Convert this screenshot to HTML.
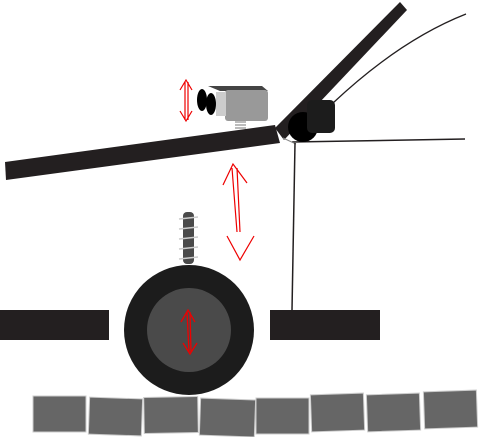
<!DOCTYPE html>
<html><head><meta charset="utf-8"><style>
html,body{margin:0;padding:0;background:#fff;width:479px;height:437px;overflow:hidden}
svg{display:block}
</style></head><body>
<svg width="479" height="437" viewBox="0 0 479 437">
  <g fill="#666" stroke="#ccc" stroke-width="1">
    <rect x="33" y="396" width="53" height="36"/>
    <rect x="89" y="398" width="53" height="37" transform="rotate(2 115 416)"/>
    <rect x="144" y="397" width="54" height="36" transform="rotate(-1 171 415)"/>
    <rect x="200" y="399" width="55" height="37" transform="rotate(2 227 417)"/>
    <rect x="256" y="398" width="53" height="36"/>
    <rect x="311" y="394" width="53" height="37" transform="rotate(-2 337 412)"/>
    <rect x="367" y="394" width="53" height="37" transform="rotate(-2 393 412)"/>
    <rect x="424" y="391" width="53" height="37" transform="rotate(-2 450 409)"/>
  </g>
  <rect x="0" y="310" width="109" height="30" fill="#231f20"/>
  <rect x="270" y="310" width="110" height="30" fill="#231f20"/>
  <g>
    <rect x="183" y="212" width="11" height="52" rx="4" fill="#4a4a4a"/>
    <g stroke="#ccc" stroke-width="1.5">
      <line x1="179" y1="219" x2="198" y2="217"/>
      <line x1="179" y1="229" x2="198" y2="227"/>
      <line x1="179" y1="239" x2="198" y2="237"/>
      <line x1="179" y1="249" x2="198" y2="247"/>
      <line x1="179" y1="259" x2="198" y2="257"/>
    </g>
  </g>
  <circle cx="189" cy="330" r="65" fill="#1c1c1c"/>
  <circle cx="189" cy="330" r="42" fill="#4a4a4a"/>
  <g stroke="#e00" stroke-width="1.3" fill="none">
    <line x1="187" y1="312" x2="189" y2="352"/><line x1="190" y1="312" x2="191" y2="352"/>
    <polyline points="181,322 188,310 195,322"/><polyline points="183,343 190,354 197,343"/>
  </g>
  <polygon points="5,162 275,125 280,143 6,180" fill="#231f20"/>
  <polygon points="275,128 400,2 407,10 284,140" fill="#231f20"/>
  <path d="M333,103 Q400,40 466,14" stroke="#231f20" stroke-width="1.3" fill="none"/>
  <line x1="292" y1="142" x2="465" y2="139" stroke="#231f20" stroke-width="1.5"/>
  <line x1="283" y1="138" x2="296" y2="144" stroke="#888" stroke-width="1"/>
  <line x1="295" y1="143" x2="292" y2="310" stroke="#231f20" stroke-width="1.5"/>
  <circle cx="303" cy="127" r="15" fill="#000"/>
  <rect x="307" y="100" width="28" height="33" rx="5" fill="#1c1c1c"/>
  <g>
    <polygon points="208,86 262,86 268,91 220,91" fill="#444"/>
    <rect x="225" y="90" width="43" height="31" rx="3" fill="#999"/>
    <rect x="216" y="92" width="10" height="24" fill="#ccc"/>
    <g stroke="#777" stroke-width="1"><line x1="235" y1="122" x2="246" y2="122"/><line x1="235" y1="125" x2="246" y2="125"/><line x1="235" y1="128" x2="246" y2="128"/></g>
    <ellipse cx="202" cy="100" rx="5" ry="11" fill="#000"/>
    <ellipse cx="211" cy="104" rx="5" ry="11" fill="#000"/>
  </g>
  <g stroke="#e00" stroke-width="1.2" fill="none">
    <line x1="185" y1="82" x2="185" y2="120"/><line x1="188" y1="82" x2="188" y2="120"/>
    <polyline points="180,90 186,80 192,90"/><polyline points="180,111 186,121 192,111"/>
  </g>
  <g stroke="#e00" stroke-width="1.2" fill="none">
    <line x1="232" y1="168" x2="237" y2="232"/><line x1="237" y1="168" x2="240" y2="232"/>
    <polyline points="223,185 233,164 247,183"/><polyline points="227,236 240,260 254,236"/>
  </g>
</svg>
</body></html>
